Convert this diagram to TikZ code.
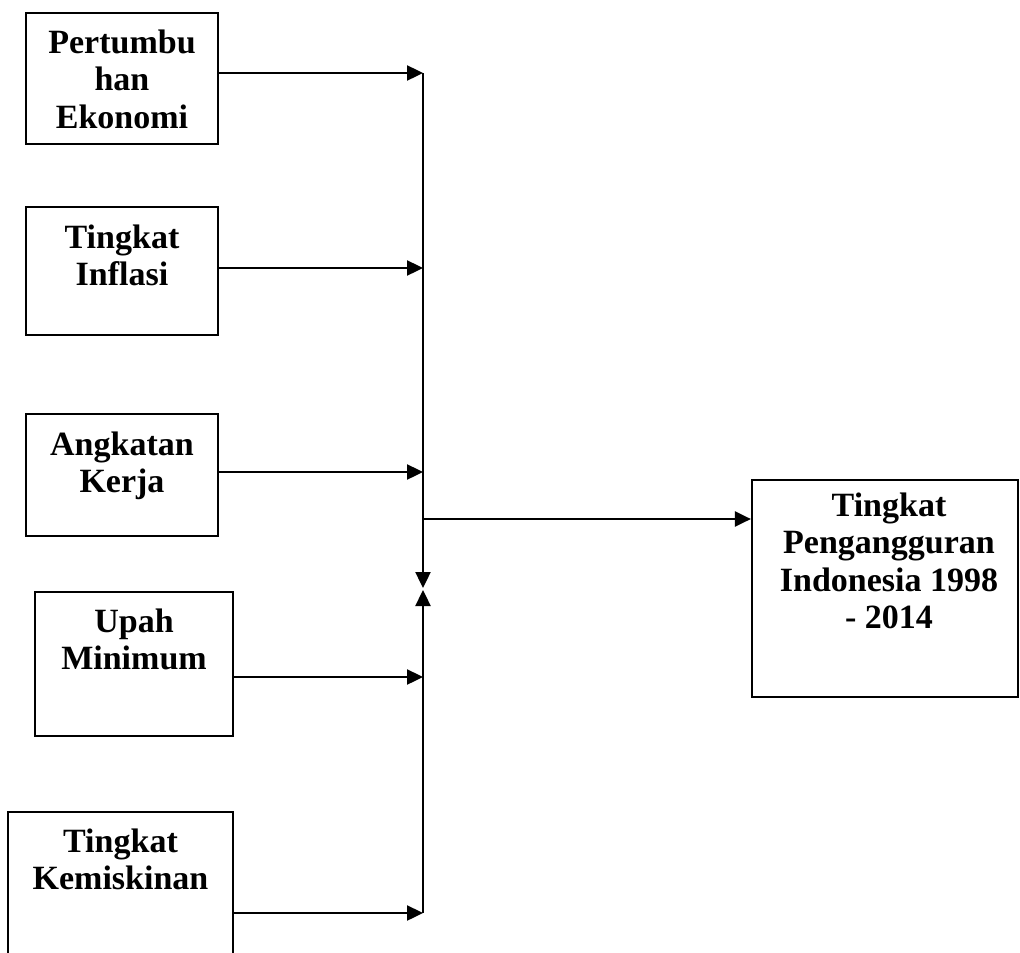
\documentclass[tikz,border=0pt]{standalone}
\usepackage{fontspec}
\setmainfont{Liberation Serif}
\usetikzlibrary{arrows.meta, positioning}

\begin{document}
\begin{tikzpicture}[x=1pt, y=-1pt,
    box/.style={draw, line width=2.2pt, minimum width=192pt, inner sep=0pt},
    lbl/.style={font=\fontsize{34}{37.5}\selectfont\bfseries, align=center, inner sep=0pt},
    conn/.style={-{Triangle[length=16pt, width=15pt]}, line width=2.4pt}]
    \useasboundingbox (0,0) rectangle (1020,953);
    \clip (0,0) rectangle (1020,953);

    % input boxes
    \node[box, minimum height=131pt] (growth) at (122,78.5) {};
    \node[box, minimum height=128pt] (inflation) at (122,271) {};
    \node[box, minimum height=122pt] (labour) at (122,475) {};
    \node[box, minimum width=198pt, minimum height=144pt] (wage) at (134,664) {};
    \node[box, minimum width=225pt, minimum height=200pt] (poverty) at (120.5,912) {};
    % output box
    \node[box, minimum width=266pt, minimum height=217pt] (unemp) at (885,588.5) {};

    \node[lbl, below=14.75pt of growth.north] (growthtxt) {\strut Pertumbu\\han\\Ekonomi};
    \node[lbl, below=15.75pt of inflation.north] (inflationtxt) {\strut Tingkat\\Inflasi};
    \node[lbl, below=15.75pt of labour.north] (labourtxt) {\strut Angkatan\\Kerja};
    \node[lbl, below=14.75pt of wage.north] (wagetxt) {\strut Upah\\Minimum};
    \node[lbl, below=14.75pt of poverty.north] (povertytxt) {\strut Tingkat\\Kemiskinan};
    \node[lbl, below=10.75pt of unemp.north, xshift=4pt] (unemptxt) {\strut Tingkat\\Pengangguran\\Indonesia 1998\\- 2014};

    % bus
    \coordinate (j1) at (423,73);
    \coordinate (j2) at (423,268);
    \coordinate (j3) at (423,472);
    \coordinate (j4) at (423,677);
    \coordinate (j5) at (423,913);
    \coordinate (jo) at (423,519);
    \coordinate (meetup) at (423,588);
    \coordinate (meetdn) at (423,590);

    \draw[conn] (growth.east |- j1) -- (j1);
    \draw[conn] (inflation.east |- j2) -- (j2);
    \draw[conn] (labour.east |- j3) -- (j3);
    \draw[conn] (wage.east |- j4) -- (j4);
    \draw[conn] (poverty.east |- j5) -- (j5);
    \draw[conn] (j1) -- (meetup);
    \draw[conn] (j5) -- (meetdn);
    \draw[conn] (jo) -- (unemp.west |- jo);
\end{tikzpicture}
\end{document}
